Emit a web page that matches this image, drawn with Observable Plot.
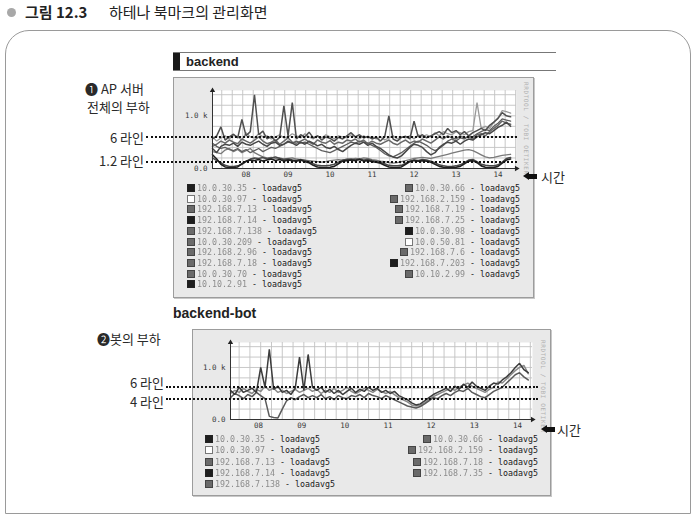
<!DOCTYPE html>
<html><head><meta charset="utf-8">
<script src="https://cdn.jsdelivr.net/npm/d3@7"></script>
<script src="https://cdn.jsdelivr.net/npm/@observablehq/plot@0.6"></script>
<style>
html,body{margin:0;padding:0;background:#fff;}
body{width:694px;height:517px;position:relative;overflow:hidden;font-family:"Noto Sans CJK KR","Noto Sans",sans-serif;color:#222;}
.abs{position:absolute;}
.frame{position:absolute;left:5px;top:30px;width:684px;height:482px;border:1px solid #9a9a9a;border-radius:24px 24px 0 0;}
.bullet{position:absolute;left:7px;top:8px;width:9px;height:9px;border-radius:50%;background:#a8a8a8;}
.title{position:absolute;top:1px;font-size:15px;line-height:22px;white-space:nowrap;color:#222;}
.hdr{position:absolute;left:173px;top:52px;width:383px;height:17px;border-top:1px solid #777;border-bottom:1px solid #777;}
.hdr .blk{position:absolute;left:0;top:0;width:7px;height:17px;background:#1a1a1a;}
.hdr .t{position:absolute;left:13px;top:0;font:bold 13px "Liberation Sans",Arial,sans-serif;line-height:17px;color:#222;}
.panel{position:absolute;background:#e9e9e9;border:1px solid #9c9c9c;box-shadow:1px 1px 0 #c8c8c8;}
.ann{position:absolute;font-size:13px;line-height:13px;height:13px;white-space:nowrap;color:#2a2a2a;}
.dots{position:absolute;height:0;border-top:2px dotted #111;}
.lg{position:absolute;font:8.3px "DejaVu Sans Mono",monospace;line-height:10px;white-space:nowrap;color:#1a1a1a;height:10px;}
.lg .sw{display:inline-block;width:6px;height:6px;border:1px solid #333;vertical-align:-1px;margin-right:2px;}
.lg .ip{color:#8c8c8c;filter:blur(0.5px);}
.vt{position:absolute;writing-mode:vertical-rl;font:6px "DejaVu Sans Mono",monospace;color:#b0b0b0;letter-spacing:0.6px;white-space:nowrap;}
.arrow{position:absolute;width:14px;height:9px;}
.arrow .hd{position:absolute;left:0;top:0;width:0;height:0;border-top:4.5px solid transparent;border-bottom:4.5px solid transparent;border-right:6px solid #111;}
.arrow .sh{position:absolute;left:5px;top:2px;width:9px;height:5px;background:#111;}
</style></head><body>
<div id="root"></div>
<script>
// ---------------- data ----------------
const dayLabels = ["08","09","10","11","12","13","14"];
const yTickValues = [0, 1000];
const yTickLabels = ["0.0", "1.0 k"];

// top chart ("backend"): samples every 0.1 day starting at day 7.7
const topStart = 7.7, topStep = 0.1;
const topBandA = [560,620,790,540,600,650,580,930,620,700,
 1400,640,710,560,610,520,590,1190,620,1250,
 560,640,600,690,580,620,540,600,570,520,
 590,560,620,680,600,640,580,610,560,590,
 520,600,1000,560,520,590,610,560,900,600,
 640,580,620,660,700,640,760,680,720,640,
 700,620,680,720,760,720,820,880,950,1060,
 1000,980];
const topBandB = [420,460,520,480,540,500,470,560,520,480,
 540,600,520,470,500,540,460,520,580,500,
 480,520,560,500,460,540,500,480,530,460,
 500,480,540,520,560,500,540,470,520,480,
 460,500,540,480,450,500,540,480,520,500,
 560,520,480,540,600,560,620,580,560,620,
 580,600,560,640,660,620,700,760,820,900,
 860,840];
const topBandC = [380,300,420,460,440,480,420,500,460,440,
 480,520,460,420,480,500,440,460,520,480,
 440,500,460,520,480,430,460,400,380,420,
 360,320,380,440,480,460,500,440,480,420,
 380,320,260,220,200,240,320,400,460,440,
 400,320,260,300,400,460,500,480,520,460,
 520,560,540,600,640,680,660,720,780,820,
 880,800];
const topBandD = [600,520,580,620,560,640,600,540,680,600,
 580,660,600,620,560,600,640,580,600,660,
 620,580,660,600,560,620,580,640,600,560,
 620,600,580,640,600,560,620,580,600,560,
 600,540,580,620,560,600,580,620,560,640,
 600,640,600,680,620,700,660,640,700,680,
 640,700,720,1250,760,800,760,880,960,1100,
 1080,1050];
const topMid = [480,420,380,400,360,340,380,320,360,300,
 340,380,320,360,400,380,420,460,500,480,
 520,480,500,460,420,380,340,320,300,340,
 380,420,460,500,480,520,500,480,440,400,
 340,280,240,220,260,300,360,420,480,520,
 480,440,380,340,380,440,520,560,520,580,
 560,620,600,660,700,740,720,800,860,940,
 920,900];
const topLowA = [260,180,80,30,20,20,30,90,140,160,
 150,170,140,160,180,150,170,140,160,150,
 140,160,130,110,60,30,20,20,25,40,
 90,140,150,160,150,170,140,150,130,120,
 100,60,30,20,20,30,80,130,150,140,
 150,140,120,80,40,25,20,20,25,40,
 90,140,150,110,50,25,20,20,40,100,
 160,180];
const topLowB = [200,150,110,60,40,40,50,80,130,180,
 200,190,210,180,200,220,190,170,180,160,
 150,170,150,130,90,60,50,50,60,80,
 120,160,170,180,160,180,160,170,150,140,
 120,90,60,50,50,60,100,140,160,150,
 170,160,140,110,70,50,40,40,50,70,
 110,160,170,130,80,60,50,50,70,120,
 190,210];
const topLowC = [320,300,280,350,380,320,360,300,340,380,
 300,260,220,200,210,190,200,180,190,200,
 180,170,160,150,140,130,120,130,150,160,
 170,160,180,170,190,180,200,190,170,160,
 140,130,110,100,110,130,150,170,190,200,
 210,200,190,210,230,250,270,290,310,330,
 350,360,340,300,260,220,200,210,230,250,
 260,270];
const topRefValues = [580, 115];
const topRefLabels = ["6 라인", "1.2 라인"];

// bottom chart ("backend-bot"): samples every 0.1 day starting at day 7.85
const botStart = 7.85, botStep = 0.1;
const botA = [560,480,620,520,560,600,520,1000,620,1350,
 580,640,520,560,480,600,1200,560,1250,620,
 560,620,520,580,500,560,480,540,600,520,
 580,540,620,560,600,520,560,500,540,460,
 420,380,320,280,300,360,420,480,520,560,
 600,540,640,580,680,620,720,640,600,560,
 640,700,680,760,820,900,1000,1080,960,900];
const botB = [420,500,460,400,480,440,520,460,400,60,
 40,30,200,360,420,380,440,480,420,460,
 420,480,400,440,380,460,420,400,460,440,
 480,420,500,460,440,400,460,420,380,340,
 300,260,240,220,250,300,360,420,400,460,
 500,460,520,560,540,600,520,480,440,420,
 480,540,580,620,700,780,860,900,820,760];
const botC = [500,560,520,600,540,500,580,540,640,560,
 600,520,560,500,540,580,520,560,600,540,
 580,500,560,520,600,520,560,620,540,500,
 540,600,560,520,580,540,500,540,480,420,
 380,340,280,260,280,320,380,440,480,520,
 560,600,560,620,660,700,640,600,560,520,
 580,620,720,700,780,860,940,1000,1040,880];
const botRefValues = [615, 385];
const botRefLabels = ["6 라인", "4 라인"];

// legends
const topLegendLeft = ["10.0.30.35","10.0.30.97","192.168.7.13","192.168.7.14","192.168.7.138","10.0.30.209","192.168.2.96","192.168.7.18","10.0.30.70","10.10.2.91"];
const topLegendLeftTone = ["dark","light","mid","dark","mid","mid","mid","mid","mid","dark"];
const topLegendRight = ["10.0.30.66","192.168.2.159","192.168.7.19","192.168.7.25","10.0.30.98","10.0.50.81","192.168.7.6","192.168.7.203","10.10.2.99"];
const topLegendRightTone = ["mid","mid","mid","mid","dark","light","mid","dark","mid"];
const botLegendLeft = ["10.0.30.35","10.0.30.97","192.168.7.13","192.168.7.14","192.168.7.138"];
const botLegendLeftTone = ["dark","light","mid","dark","mid"];
const botLegendRight = ["10.0.30.66","192.168.2.159","192.168.7.18","192.168.7.35"];
const botLegendRightTone = ["mid","mid","mid","mid"];
const metricName = " - loadavg5";

// ---------------- helpers ----------------
const root = document.getElementById("root");
function el(cls, css, html) {
  const d = document.createElement("div");
  d.className = cls;
  Object.assign(d.style, css);
  if (html != null) d.innerHTML = html;
  root.appendChild(d);
  return d;
}
const toneFill = {dark:"#1e1e1e", mid:"#6a6a6a", light:"#ffffff"};
const toneBorder = {dark:"#222", mid:"#444", light:"#777"};

function legend(names, tones, x, y0, step, align) {
  names.forEach((n, i) => {
    const css = {top: (y0 + i * step - 5) + "px"};
    if (align === "left") css.left = x + "px"; else css.right = (694 - x) + "px";
    el("lg", css, `<span class="sw" style="background:${toneFill[tones[i]]};border-color:${toneBorder[tones[i]]}"></span><span class="ip">${n}</span>${metricName}`);
  });
}

function chart(cfg) {
  const tickPos = dayLabels.map(s => +s + 0.5);
  const tickMap = new Map(tickPos.map((p, i) => [p, dayLabels[i]]));
  const yMap = new Map(yTickValues.map((v, i) => [v, yTickLabels[i]]));
  const gridX = d3.range(cfg.gridStart, cfg.xDomain[1], 0.25);
  const gridY = d3.range(200, cfg.yDomain[1], 200);
  const xs = (i) => cfg.start + i * cfg.step;
  const plot = Plot.plot({
    width: cfg.w, height: cfg.h,
    marginLeft: cfg.ml, marginRight: cfg.mr, marginTop: cfg.mt, marginBottom: cfg.mb,
    x: {domain: cfg.xDomain, ticks: tickPos, tickFormat: d => tickMap.get(d), tickSize: 0, tickPadding: 3, label: null},
    y: {domain: cfg.yDomain, ticks: yTickValues, tickFormat: d => yMap.get(d), tickSize: 0, tickPadding: 5, label: null},
    style: {background: "transparent", fontFamily: "DejaVu Sans Mono, monospace", fontSize: "7.5px", color: "#3a3a3a", overflow: "visible"},
    marks: [
      Plot.frame({fill: "#fff", stroke: "none"}),
      Plot.ruleX(gridX, {stroke: "#c2c2c2", strokeWidth: 0.9}),
      Plot.ruleY(gridY, {stroke: "#c2c2c2", strokeWidth: 0.9}),
      ...cfg.series.map(s => Plot.lineY(s.values, {x: (d, i) => xs(i), y: d => d, stroke: s.color, strokeWidth: s.width || 1.3, strokeLinejoin: "miter"})),
      Plot.ruleY([0], {stroke: "#333", strokeWidth: 1}),
      Plot.ruleX([cfg.xDomain[0]], {stroke: "#333", strokeWidth: 1}),
      Plot.dot([{x: cfg.xDomain[1], y: 0, r: 90}, {x: cfg.xDomain[0], y: cfg.yDomain[1], r: 0}],
        {x: "x", y: "y", rotate: "r", symbol: "triangle", r: 2, fill: "#222", stroke: "none"})
    ]
  });
  plot.style.position = "absolute";
  plot.style.left = cfg.left + "px";
  plot.style.top = cfg.top + "px";
  root.appendChild(plot);
  const ys = plot.scale("y");
  cfg.refValues.forEach((v, i) => {
    const y = cfg.top + ys.apply(v);
    el("dots", {left: cfg.lineX0 + "px", top: (y - 1) + "px", width: (cfg.lineX1 - cfg.lineX0) + "px"});
    el("ann", {right: (694 - cfg.lineX0 + 2) + "px", top: (y - 7 + cfg.labelDy[i]) + "px"}, cfg.refLabels[i]);
  });
  return plot;
}

// ---------------- layout ----------------
el("frame", {});
el("bullet", {});
el("title", {left: "25px", fontWeight: "bold"}, "그림 12.3");
el("title", {left: "109px"}, "하테나 북마크의 관리화면");

el("hdr", {}, '<div class="blk"></div><div class="t">backend</div>');

// top panel
el("panel", {left: "173px", top: "77px", width: "359px", height: "219px"});
el("vt", {left: "523px", top: "82px"}, "RRDTOOL / TOBI OETIKER");
chart({
  left: 173, top: 77, w: 360, h: 106, ml: 39, mr: 17, mt: 13, mb: 15,
  xDomain: [7.7, 14.94], yDomain: [0, 1480], gridStart: 7.92,
  start: topStart, step: topStep,
  series: [
    {values: topBandD, color: "#9a9a9a"},
    {values: topLowC, color: "#7a7a7a"},
    {values: topBandB, color: "#6a6a6a", width: 1.5},
    {values: topMid, color: "#5e5e5e"},
    {values: topBandC, color: "#474747", width: 1.5},
    {values: topBandA, color: "#505050", width: 1.5},
    {values: topLowB, color: "#4a4a4a", width: 1.5},
    {values: topLowA, color: "#202020", width: 1.6}
  ],
  refValues: topRefValues, refLabels: topRefLabels, labelDy: [1, -1], lineX0: 146, lineX1: 517
});
legend(topLegendLeft, topLegendLeftTone, 187, 188, 10.7, "left");
legend(topLegendRight, topLegendRightTone, 520, 188, 10.7, "right");

el("ann", {left: "85px", top: "82px"}, "❶ AP 서버");
el("ann", {left: "87px", top: "100px"}, "전체의 부하");
el("arrow", {left: "523px", top: "172px"}, '<div class="hd"></div><div class="sh"></div>');
el("ann", {left: "541px", top: "170px"}, "시간");

// bottom
el("abs", {left: "173px", top: "305px", font: 'bold 14px "Liberation Sans",Arial,sans-serif', color: "#222", whiteSpace: "nowrap"}, "backend-bot");
el("panel", {left: "192px", top: "329px", width: "357px", height: "165px"});
el("vt", {left: "540px", top: "340px"}, "RRDTOOL / TOBI OETIKER");
chart({
  left: 192, top: 329, w: 358, h: 105, ml: 38, mr: 18, mt: 13, mb: 15,
  xDomain: [7.85, 14.85], yDomain: [0, 1480], gridStart: 8.05,
  start: botStart, step: botStep,
  series: [
    {values: botC, color: "#8a8a8a", width: 1.5},
    {values: botB, color: "#5a5a5a", width: 1.5},
    {values: botA, color: "#3c3c3c", width: 1.5}
  ],
  refValues: botRefValues, refLabels: botRefLabels, labelDy: [-4, 3], lineX0: 166, lineX1: 538
});
legend(botLegendLeft, botLegendLeftTone, 205, 439, 11.3, "left");
legend(botLegendRight, botLegendRightTone, 538, 439, 11.3, "right");

el("ann", {left: "97px", top: "332px"}, "❷봇의 부하");
el("arrow", {left: "541px", top: "425px"}, '<div class="hd"></div><div class="sh"></div>');
el("ann", {left: "557px", top: "423px"}, "시간");
</script>
</body></html>
